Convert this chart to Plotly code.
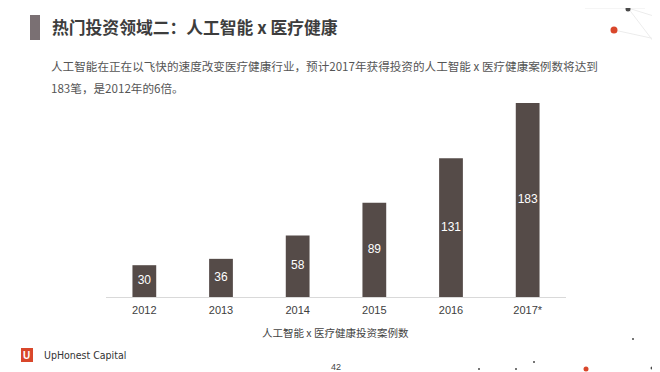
import plotly.graph_objects as go

# ---- data ----
years = ["2012", "2013", "2014", "2015", "2016", "2017*"]
cases = [30, 36, 58, 89, 131, 183]
title_text = "热门投资领域二：人工智能 x 医疗健康"
sub_line1 = "人工智能在正在以飞快的速度改变医疗健康行业，预计2017年获得投资的人工智能 x 医疗健康案例数将达到"
sub_line2 = "183笔，是2012年的6倍。"
axis_title = "人工智能 x 医疗健康投资案例数"
brand = "UpHonest Capital"
page_no = "42"

# the page body has an 8px default margin, so the figure is drawn 8px in
OFF = 8
W, H = 660 - OFF, 372 - OFF
FONT = "Liberation Sans, Arial, Noto Sans CJK SC, sans-serif"
CJK = "Noto Sans CJK SC, Liberation Sans, sans-serif"
BAR = "#554b48"


def px(x):
    return (x - OFF) / W


def py(y):
    return 1 - (y - OFF) / H


fig = go.Figure()
fig.add_trace(go.Bar(
    x=years, y=cases, width=0.31, marker=dict(color=BAR, line=dict(width=0)),
    hoverinfo="skip", showlegend=False,
))
fig.add_trace(go.Scatter(
    x=years, y=[v / 2 for v in cases], mode="text", text=[str(v) for v in cases],
    textfont=dict(color="white", size=12, family=FONT), hoverinfo="skip", showlegend=False,
))

annotations = [
    dict(x=px(50), y=py(27), text=f"<b>{title_text}</b>", xanchor="left", yanchor="middle",
         font=dict(size=16.8, color="#3d3d3d", family=CJK)),
    dict(x=px(49), y=py(66), text=sub_line1, xanchor="left", yanchor="middle",
         font=dict(size=11.6, color="#555555", family=CJK)),
    dict(x=px(49), y=py(88), text=sub_line2, xanchor="left", yanchor="middle",
         font=dict(size=11.6, color="#555555", family=CJK)),
    dict(x=px(335), y=py(332), text=axis_title, xanchor="center", yanchor="middle",
         font=dict(size=10.5, color="#444444", family=CJK)),
    dict(x=px(42), y=py(355), text=brand, xanchor="left", yanchor="middle",
         font=dict(size=10.5, color="#333333", family="DejaVu Sans Condensed, Liberation Sans, sans-serif")),
    dict(x=px(26.5), y=py(355), text="<b>U</b>", xanchor="center", yanchor="middle",
         font=dict(size=10, color="white", family=FONT)),
    dict(x=px(336), y=py(367), text=page_no, xanchor="center", yanchor="middle",
         font=dict(size=9, color="#444444", family=FONT)),
]

shapes = [
    # title marker bar
    dict(type="rect", xref="paper", yref="paper", x0=px(30), x1=px(40), y0=py(15), y1=py(40),
         fillcolor="#7a7073", line=dict(width=0)),
    # logo square
    dict(type="rect", xref="paper", yref="paper", x0=px(21), x1=px(33), y0=py(348), y1=py(362),
         fillcolor="#d9472b", line=dict(width=0)),
]
# decorative network lines (top right)
for (x0, y0, x1, y1) in [(585, 8, 628, 7), (628, 7, 645, 8), (628, 7, 660, 18),
                         (614, 30, 660, 40), (628, 7, 660, 50)]:
    shapes.append(dict(type="line", xref="paper", yref="paper", x0=px(x0), y0=py(max(y0, 8)),
                       x1=px(x1), y1=py(max(y1, 8)), line=dict(color="#ececec", width=1)))
# decorative dots
for (cx, cy, r, c) in [(628, 9, 2.5, "#4a4a4a"), (614, 30, 3.5, "#d9472b"), (658, 40, 1.5, "#4a4a4a"),
                       (655, 83, 1, "#4a4a4a"), (633, 339, 1, "#4a4a4a"), (534, 362, 1, "#4a4a4a"),
                       (479, 369, 1, "#4a4a4a"), (516, 369, 1, "#4a4a4a"), (586, 369, 2.5, "#d9472b"),
                       (652, 368, 1.5, "#4a4a4a")]:
    shapes.append(dict(type="circle", xref="paper", yref="paper", x0=px(cx - r), x1=px(cx + r),
                       y0=py(cy + r), y1=py(cy - r), fillcolor=c, line=dict(width=0)))

fig.update_layout(
    width=W, height=H, margin=dict(l=0, r=0, t=0, b=0),
    paper_bgcolor="white", plot_bgcolor="white",
    xaxis=dict(domain=[px(106), px(566)], showgrid=False, zeroline=False, showline=True,
               linecolor="#d9d9d9", linewidth=1, ticks="outside", ticklen=3, tickcolor="rgba(0,0,0,0)",
               tickfont=dict(size=11, color="#404040", family=FONT), fixedrange=True),
    yaxis=dict(domain=[py(297), py(103)], range=[0, 183], visible=False, fixedrange=True),
    annotations=[dict(a, xref="paper", yref="paper", showarrow=False) for a in annotations],
    shapes=shapes,
    bargap=0.69,
)

fig.write_html("out.html")
